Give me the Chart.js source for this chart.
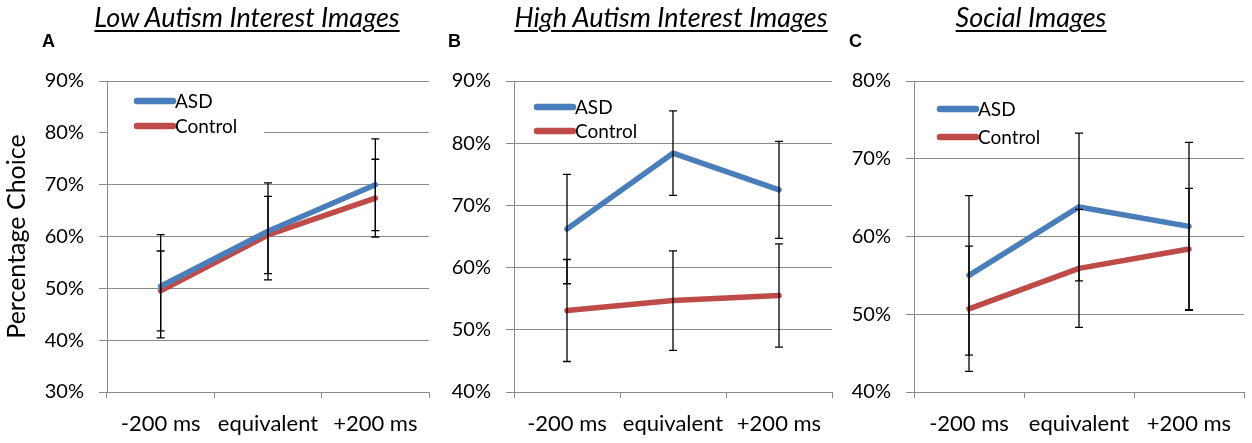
<!DOCTYPE html>
<html>
<head>
<meta charset="utf-8">
<script src="https://cdn.jsdelivr.net/npm/chart.js@4.4.1/dist/chart.umd.min.js"></script>
<style>
  body { margin:0; background:#fff; }
  #page { position:relative; width:1252px; height:443px; overflow:hidden; font-family:Lato, sans-serif; }
  .box { position:absolute; top:0; height:443px; }
  .ttl { position:absolute; top:0px; font-family:Lato, sans-serif; font-style:italic; font-size:27px;
         text-decoration:underline; text-underline-offset:3px; text-decoration-thickness:1.5px; white-space:nowrap;
         transform:translateX(-50%); color:#000; z-index:2; }
  .let { position:absolute; top:31px; font-family:"Liberation Sans", Arial, sans-serif; font-weight:bold; font-size:18px; z-index:2; }
</style>
</head>
<body>
<div id="page">
  <div class="ttl" style="left:247px">Low Autism Interest Images</div>
  <div class="ttl" style="left:671px">High Autism Interest Images</div>
  <div class="ttl" style="left:1031px">Social Images</div>
  <div class="let" style="left:42px">A</div>
  <div class="let" style="left:448px">B</div>
  <div class="let" style="left:849px">C</div>
  <div class="box" style="left:0px;width:432px"><canvas id="chartA"></canvas></div>
  <div class="box" style="left:436px;width:400px"><canvas id="chartB"></canvas></div>
  <div class="box" style="left:840px;width:412px"><canvas id="chartC"></canvas></div>
</div>
<script>
// data (percent choice, +/- error)
var categories = ['-200 ms', 'equivalent', '+200 ms'];
var seriesNames = ['ASD', 'Control'];

var lowAsd = [50.4, 61.0, 70.0];
var lowControl = [49.5, 60.3, 67.4];
var lowAsdErr = [9.95, 9.35, 8.85];
var lowControlErr = [7.7, 7.45, 7.5];
var lowTicks = [30, 90];

var highAsd = [66.2, 78.4, 72.5];
var highControl = [53.1, 54.7, 55.5];
var highAsdErr = [8.8, 6.8, 7.8];
var highControlErr = [8.2, 8.0, 8.3];
var highTicks = [40, 90];

var socialAsd = [55.0, 63.8, 61.3];
var socialControl = [50.7, 55.9, 58.4];
var socialAsdErr = [10.25, 9.5, 10.8];
var socialControlErr = [8.05, 7.6, 7.8];
var socialTicks = [40, 80];

var BLUE = '#4A7EBB';
var RED = '#BE4B48';
var GRID = '#8a8a8a';

// error bars on top of the lines
var errorBars = {
  id: 'errorBars',
  afterDatasetsDraw: function(chart) {
    var ctx = chart.ctx;
    var xs = chart.scales.x, ys = chart.scales.y;
    ctx.save();
    ctx.strokeStyle = '#000';
    ctx.lineWidth = 1.3;
    chart.data.datasets.forEach(function(ds) {
      ds.data.forEach(function(v, j) {
        var e = ds.errors[j];
        var x = xs.getPixelForValue(j);
        var top = ys.getPixelForValue(v + e);
        var bot = ys.getPixelForValue(v - e);
        ctx.beginPath();
        ctx.moveTo(x, top); ctx.lineTo(x, bot);
        ctx.moveTo(x - 4, top); ctx.lineTo(x + 4, top);
        ctx.moveTo(x - 4, bot); ctx.lineTo(x + 4, bot);
        ctx.stroke();
      });
    });
    ctx.restore();
  }
};

// legend drawn inside the plot, white box hides the grid behind it
var innerLegend = {
  id: 'innerLegend',
  beforeDatasetsDraw: function(chart, args, opts) {
    var ctx = chart.ctx;
    var area = chart.chartArea;
    var lx = area.left + opts.dx;
    var ly = area.top + opts.dy;
    ctx.save();
    ctx.fillStyle = '#fff';
    ctx.fillRect(area.left + 1, ly - 15, opts.dx + 127 - 1, opts.gap + 26);
    chart.data.datasets.forEach(function(ds, i) {
      var y = ly + i * opts.gap;
      ctx.strokeStyle = ds.borderColor;
      ctx.lineWidth = 6.5;
      ctx.lineCap = 'round';
      ctx.beginPath();
      ctx.moveTo(lx, y); ctx.lineTo(lx + 36, y);
      ctx.stroke();
      ctx.fillStyle = '#000';
      ctx.font = '19px Lato';
      ctx.textBaseline = 'middle';
      ctx.fillText(ds.label, lx + 38, y + 1);
    });
    ctx.restore();
  }
};

function makePanel(canvasId, asd, control, asdErr, controlErr, range, yWidth, padRight, legendPos, yTitle) {
  var ctx = document.getElementById(canvasId).getContext('2d');
  return new Chart(ctx, {
    type: 'line',
    data: {
      labels: categories,
      datasets: [{
        label: seriesNames[0],
        data: asd,
        errors: asdErr,
        borderColor: BLUE,
        borderWidth: 5.5,
        pointRadius: 0,
        borderCapStyle: 'round',
        borderJoinStyle: 'round',
        tension: 0
      }, {
        label: seriesNames[1],
        data: control,
        errors: controlErr,
        borderColor: RED,
        borderWidth: 5.5,
        pointRadius: 0,
        borderCapStyle: 'round',
        borderJoinStyle: 'round',
        tension: 0
      }]
    },
    options: {
      responsive: true,
      maintainAspectRatio: false,
      animation: false,
      layout: { padding: { top: 81, right: padRight, bottom: 0, left: 0 } },
      plugins: {
        legend: { display: false },
        tooltip: { enabled: false },
        innerLegend: legendPos
      },
      scales: {
        x: {
          offset: true,
          grid: { offset: true, drawOnChartArea: false, drawTicks: true, tickLength: 6, color: GRID },
          border: { color: GRID },
          ticks: { color: '#000', font: { family: 'Lato', size: 22 }, padding: 13, maxRotation: 0 },
          afterFit: function(s) { s.height = 51; }
        },
        y: {
          min: range[0],
          max: range[1],
          grid: { color: GRID, tickLength: 8 },
          border: { color: GRID },
          ticks: {
            stepSize: 10,
            color: '#000',
            font: { family: 'Lato', size: 20 },
            padding: 15,
            callback: function(v) { return v + '%'; }
          },
          title: {
            display: !!yTitle,
            text: yTitle || '',
            color: '#000',
            font: { family: 'Lato', size: 25 },
            padding: { top: 2, bottom: 0 }
          },
          afterFit: function(s) { s.width = yWidth; }
        }
      }
    },
    plugins: [errorBars, innerLegend]
  });
}

makePanel('chartA', lowAsd, lowControl, lowAsdErr, lowControlErr, lowTicks, 107, 3, { dx: 30, dy: 20, gap: 25 }, 'Percentage Choice');
makePanel('chartB', highAsd, highControl, highAsdErr, highControlErr, highTicks, 78, 4, { dx: 23, dy: 26, gap: 24 }, null);
makePanel('chartC', socialAsd, socialControl, socialAsdErr, socialControlErr, socialTicks, 74, 8, { dx: 26, dy: 28, gap: 28 }, null);
</script>
</body>
</html>
